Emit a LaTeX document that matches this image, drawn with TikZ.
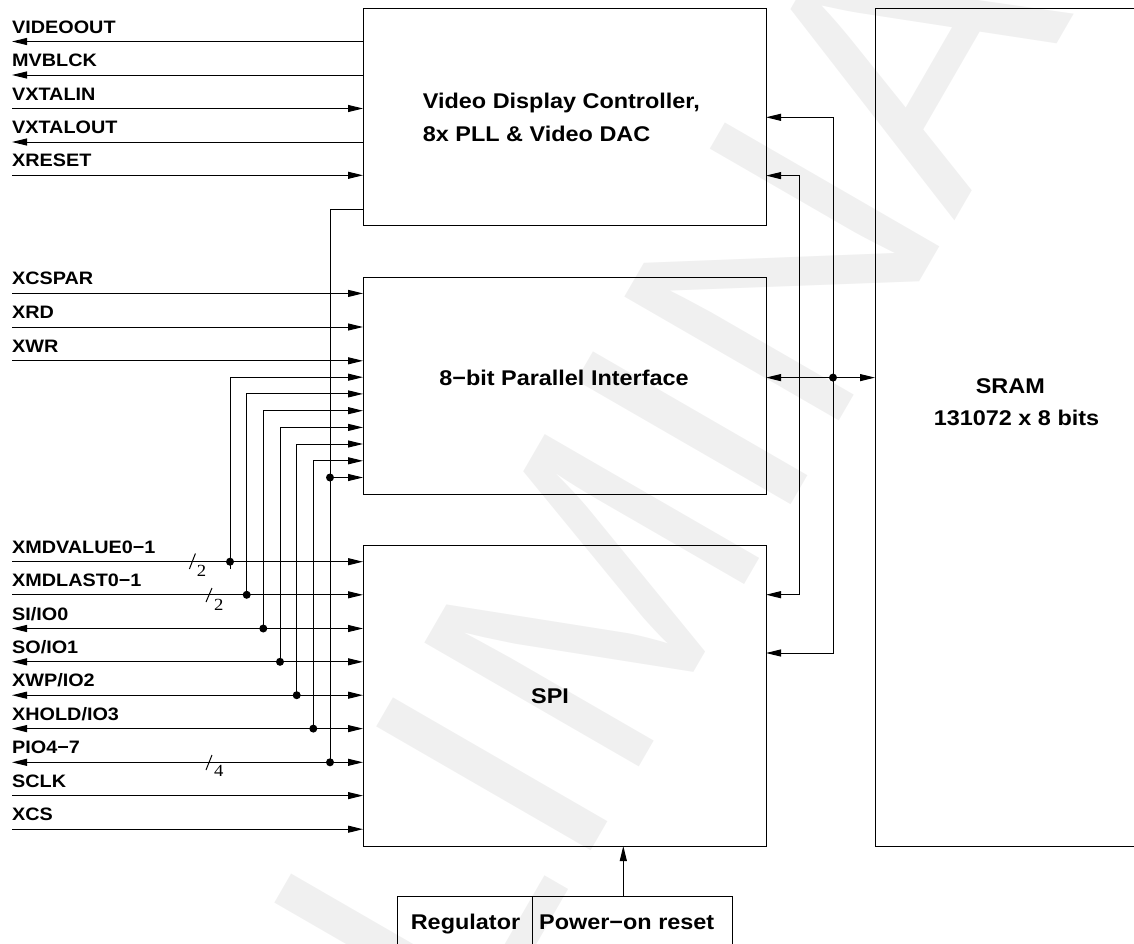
\documentclass[tikz,border=0pt]{standalone}
\usepackage{fontspec}
\setmainfont{Liberation Sans}[FakeStretch=1.1]
\newfontfamily\numfont{Liberation Serif}[FakeStretch=1.1]
\newfontfamily\wmfont{Liberation Sans}
\usetikzlibrary{arrows.meta,calc}
\tikzset{
  Arw/.tip={Triangle[length=15pt,width=7pt]},
  wire/.style={line width=1pt},
  toR/.style={wire,-Arw},
  fromL/.style={wire,Arw-},
  both/.style={wire,Arw-Arw},
  dot/.style={circle,fill,inner sep=0pt,minimum size=8pt},
  box/.style={draw,line width=1pt,anchor=north west,inner sep=0pt,outer sep=0pt},
  lbl/.style={anchor=base west,inner sep=0pt,font=\fontsize{18pt}{20pt}\selectfont\bfseries},
  big/.style={inner sep=0pt,font=\fontsize{21.3pt}{24pt}\selectfont\bfseries},
  busnum/.style={inner sep=0pt,font=\fontsize{17pt}{19pt}\selectfont\numfont},
  watermark/.style={inner sep=0pt,text=black!6,font=\fontsize{360pt}{360pt}\selectfont\wmfont},
}
\begin{document}
\begin{tikzpicture}[x=1pt,y=-1pt]
\path[use as bounding box] (0,0) rectangle (1134,943);
\clip (0,0) rectangle (1134,943);

% watermark
\node[watermark,anchor=base west,rotate=60] (wm) at (104,1694) {PRELIMINARY};

% blocks
\node[box,minimum width=403pt,minimum height=217pt] (vdc) at (363,8) {};
\node[box,minimum width=403pt,minimum height=217pt] (par) at (363,277) {};
\node[box,minimum width=403pt,minimum height=301pt] (spi) at (363,545) {};
\node[box,minimum width=320pt,minimum height=838pt] (sram) at (875,8) {};
\node[box,minimum width=135pt,minimum height=80pt] (reg) at (397,896.5) {};
\node[box,minimum width=200pt,minimum height=80pt] (por) at (532,896.5) {};

% block texts
\node[big,anchor=base west] (vdct1) at (422.7,108.3) {Video Display Controller,};
\node[big,anchor=base west] (vdct2) at (422.7,141.7) {8x PLL \& Video DAC};
\node[big,anchor=base] (part) at (564,385.5) {8−bit Parallel Interface};
\node[big,anchor=base] (spit) at (550,703.5) {SPI};
\node[big,anchor=base] (sramt1) at (1010.3,393.3) {SRAM};
\node[big,anchor=base] (sramt2) at (1016.5,425) {131072 x 8 bits};
\node[big,anchor=base] (regt) at (465.5,929) {Regulator};
\node[big,anchor=base] (port) at (626.7,929) {Power−on reset};

% video controller signals
\foreach \i/\y/\t/\s in {1/41.5/VIDEOOUT/fromL, 2/75/MVBLCK/fromL, 3/108.5/VXTALIN/toR, 4/142/VXTALOUT/fromL, 5/175.3/XRESET/toR}{
  \coordinate (v\i) at (12,\y);
  \node[lbl] (vl\i) at ([yshift=8.5pt]v\i) {\t};
  \draw[\s] (v\i) -- (v\i -| vdc.west);
}

% parallel interface signals
\foreach \i/\y/\t in {1/293.4/XCSPAR, 2/327/XRD, 3/360.8/XWR}{
  \coordinate (p\i) at (12,\y);
  \node[lbl] (pl\i) at ([yshift=8.5pt]p\i) {\t};
  \draw[toR] (p\i) -- (p\i -| par.west);
}

% SPI signals
\foreach \i/\y/\t/\s in {1/561.7/XMDVALUE0−1/toR, 2/594.8/XMDLAST0−1/toR, 3/628.5/SI\slash IO0/both, 4/661.8/SO\slash IO1/both, 5/695.2/XWP\slash IO2/both, 6/728.6/XHOLD\slash IO3/both, 7/762.3/PIO4−7/both, 8/795.6/SCLK/toR, 9/829.2/XCS/toR}{
  \coordinate (s\i) at (12,\y);
  \node[lbl] (sl\i) at ([yshift=8.5pt]s\i) {\t};
  \draw[\s] (s\i) -- (s\i -| spi.west);
}

% bus width marks
\coordinate (k1a) at (189.4,569); \coordinate (k1b) at (195.4,553.5);
\draw[wire] (k1a) -- (k1b);
\node[busnum] (k1n) at (201.5,571) {2};
\coordinate (k2a) at (206,602); \coordinate (k2b) at (212,588);
\draw[wire] (k2a) -- (k2b);
\node[busnum] (k2n) at (218.7,605) {2};
\coordinate (k3a) at (206,770); \coordinate (k3b) at (212,755);
\draw[wire] (k3a) -- (k3b);
\node[busnum] (k3n) at (218.7,771) {4};

% SPI pins shared with parallel interface
\foreach \i/\x/\yt/\yb/\ye in {1/230/377.2/561.7/569, 2/246.7/393.9/594.8/594.8, 3/263.3/410.7/628.5/628.5, 4/280/427.4/661.8/661.8, 5/296.7/444/695.2/695.2, 6/313.3/460.8/728.6/728.6}{
  \coordinate (nt\i) at (\x,\yt);
  \coordinate (nb\i) at (\x,\ye);
  \draw[toR] (nb\i) -- (nt\i) -- (nt\i -| par.west);
  \node[dot] (nd\i) at (\x,\yb) {};
}

% line from video controller
\coordinate (vk) at (330,209.3);
\node[dot] (vd1) at (330,477.5) {};
\node[dot] (vd2) at (330,762.3) {};
\draw[wire] (vk -| vdc.west) -- (vk) -- (vd2.center);
\draw[toR] (vd1.center) -- (vd1 -| par.west);

% memory bus on the right
\coordinate (b1) at (833,117.3);
\coordinate (b2) at (833,653);
\draw[both] (b1 -| vdc.east) -- (b1) -- (b2) -- (b2 -| spi.east);
\coordinate (c1) at (799.7,175.6);
\coordinate (c2) at (799.7,594.7);
\draw[both] (c1 -| vdc.east) -- (c1) -- (c2) -- (c2 -| spi.east);
\node[dot] (bj) at (833,377.6) {};
\draw[fromL] (bj -| par.east) -- (bj.center);
\draw[toR] (bj.center) -- (bj -| sram.west);

% power-on reset to SPI
\coordinate (pa) at (623.3,896.5);
\draw[toR] (pa) -- (pa |- spi.south);
\end{tikzpicture}
\end{document}
